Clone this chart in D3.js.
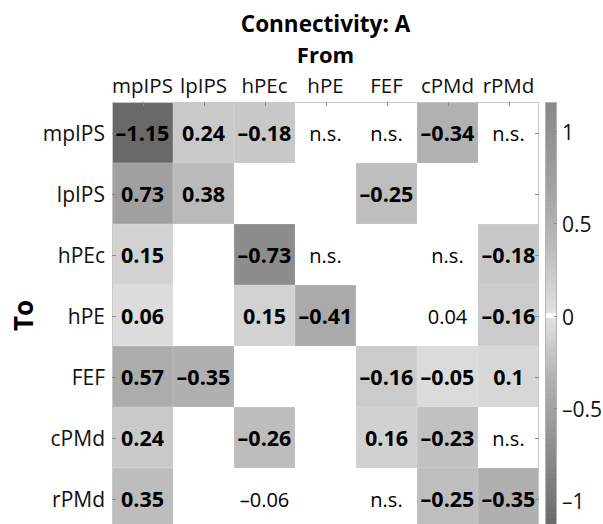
<!DOCTYPE html>
<html>
<head>
<meta charset="utf-8">
<script src="https://cdn.jsdelivr.net/npm/d3@7"></script>
<style>
  html, body { margin: 0; padding: 0; background: #fff; }
  svg { display: block; font-family: "Open Sans", "DejaVu Sans", sans-serif; }
</style>
</head>
<body>
<svg id="chart" width="603" height="524"></svg>
<script>
// Regions, used both as source (columns) and target (rows)
const regions = ["mpIPS", "lpIPS", "hPEc", "hPE", "FEF", "cPMd", "rPMd"];

// One array per target region, one entry per source region.
// number = significant estimate (shaded, bold); string = unshaded label; null = empty
const toMpIPS = [-1.15, 0.24, -0.18, "n.s.", "n.s.", -0.34, "n.s."];
const toLpIPS = [0.73, 0.38, null, null, -0.25, null, null];
const toHPEc  = [0.15, null, -0.73, "n.s.", null, "n.s.", -0.18];
const toHPE   = [0.06, null, 0.15, -0.41, null, "0.04", -0.16];
const toFEF   = [0.57, -0.35, null, null, -0.16, -0.05, 0.1];
const toCPMd  = [0.24, null, -0.26, null, 0.16, -0.23, "n.s."];
const toRPMd  = [0.35, null, "-0.06", null, "n.s.", -0.25, -0.35];

const matrix = [toMpIPS, toLpIPS, toHPEc, toHPE, toFEF, toCPMd, toRPMd];

// Colour limits and colorbar tick values
const colorLimit = 1.16;
const colorbarTicks = [-1, -0.5, 0, 0.5, 1];

const minus = s => String(s).replace("-", "\u2013");

const svg = d3.select("#chart");
const gridLeft = 112, gridTop = 102, cell = 61;
const gridW = cell * regions.length, gridH = cell * regions.length;

const x = d3.scaleBand().domain(regions).range([gridLeft, gridLeft + gridW]);
const y = d3.scaleBand().domain(regions).range([gridTop, gridTop + gridH]);

// Diverging grey map: darker for larger magnitudes (negative side darker), white at zero
const grey = d3.scaleLinear()
  .domain([-colorLimit, -0.73, -0.35, 0, 0.38, 0.73, colorLimit])
  .range(["#686868", "#8d8d8d", "#b0b0b0", "#e2e2e2", "#bababa", "#a0a0a0", "#888888"])
  .clamp(true);
const fillFor = v => Math.abs(v) < 0.012 ? "#ffffff" : grey(v);

const cells = [];
matrix.forEach((row, i) => row.forEach((v, j) => {
  if (v !== null) cells.push({ to: regions[i], from: regions[j], v });
}));

// Shaded cells
svg.append("g").selectAll("rect")
  .data(cells.filter(d => typeof d.v === "number"))
  .join("rect")
  .attr("x", d => x(d.from))
  .attr("y", d => y(d.to))
  .attr("width", x.bandwidth())
  .attr("height", y.bandwidth())
  .attr("fill", d => fillFor(d.v))
  .attr("stroke", "#ffffff")
  .attr("stroke-opacity", 0.15)
  .attr("stroke-width", 1);

// Axis box
svg.append("rect")
  .attr("x", gridLeft + 0.5).attr("y", gridTop + 0.5)
  .attr("width", gridW - 1).attr("height", gridH)
  .attr("fill", "none").attr("stroke", "#c8c8c8").attr("stroke-width", 1);

// Inward ticks on all four sides
const tickLen = 4;
const tickG = svg.append("g").attr("stroke", "#8a8a8a").attr("stroke-width", 1);
regions.forEach(r => {
  const px = Math.round(x(r) + x.bandwidth() / 2) + 0.5;
  const py = Math.round(y(r) + y.bandwidth() / 2) + 0.5;
  tickG.append("line").attr("x1", px).attr("x2", px).attr("y1", gridTop).attr("y2", gridTop + tickLen);
  tickG.append("line").attr("x1", px).attr("x2", px).attr("y1", gridTop + gridH).attr("y2", gridTop + gridH - tickLen);
  tickG.append("line").attr("x1", gridLeft).attr("x2", gridLeft + tickLen).attr("y1", py).attr("y2", py);
  tickG.append("line").attr("x1", gridLeft + gridW).attr("x2", gridLeft + gridW - tickLen).attr("y1", py).attr("y2", py);
});

// Cell labels
svg.append("g").selectAll("text")
  .data(cells)
  .join("text")
  .attr("x", d => x(d.from) + x.bandwidth() / 2)
  .attr("y", d => y(d.to) + y.bandwidth() / 2 + 8)
  .attr("text-anchor", "middle")
  .attr("font-size", d => typeof d.v === "number" ? 21.5 : 20)
  .attr("font-weight", d => typeof d.v === "number" ? "bold" : "normal")
  .attr("fill", "#000")
  .text(d => minus(d.v));

// Column (source) labels
svg.append("g").selectAll("text")
  .data(regions)
  .join("text")
  .attr("x", d => x(d) + x.bandwidth() / 2)
  .attr("y", 93)
  .attr("text-anchor", "middle")
  .attr("font-size", 20.5)
  .attr("fill", "#111")
  .text(d => d);

// Row (target) labels
svg.append("g").selectAll("text")
  .data(regions)
  .join("text")
  .attr("x", 105)
  .attr("y", d => y(d) + y.bandwidth() / 2 + 8)
  .attr("text-anchor", "end")
  .attr("font-size", 21)
  .attr("fill", "#111")
  .text(d => d);

// Titles
svg.append("text")
  .attr("x", gridLeft + gridW / 2).attr("y", 32)
  .attr("text-anchor", "middle").attr("font-size", 22.5).attr("font-weight", "bold")
  .text("Connectivity: A");
svg.append("text")
  .attr("x", gridLeft + gridW / 2).attr("y", 63)
  .attr("text-anchor", "middle").attr("font-size", 22).attr("font-weight", "bold")
  .text("From");
svg.append("text")
  .attr("transform", `translate(33, ${gridTop + gridH / 2}) rotate(-90)`)
  .attr("text-anchor", "middle").attr("font-size", 26).attr("font-weight", "bold")
  .text("To");

// Colorbar
const cbX = 545, cbW = 12;
const cScale = d3.scaleLinear().domain([-colorLimit, colorLimit]).range([gridTop + gridH, gridTop]);
const steps = d3.range(0, 257).map(k => -colorLimit + (2 * colorLimit) * k / 256);
const cbar = svg.append("g");
cbar.selectAll("rect")
  .data(steps.slice(0, -1))
  .join("rect")
  .attr("x", cbX)
  .attr("width", cbW)
  .attr("y", (d, k) => cScale(steps[k + 1]))
  .attr("height", (d, k) => cScale(steps[k]) - cScale(steps[k + 1]) + 0.6)
  .attr("fill", (d, k) => fillFor((steps[k] + steps[k + 1]) / 2));
cbar.append("rect")
  .attr("x", cbX).attr("width", cbW)
  .attr("y", cScale(0.012)).attr("height", cScale(-0.012) - cScale(0.012))
  .attr("fill", "#ffffff");
cbar.append("rect")
  .attr("x", cbX + 0.5).attr("y", gridTop + 0.5)
  .attr("width", cbW - 1).attr("height", gridH)
  .attr("fill", "none").attr("stroke", "#b4b4b4").attr("stroke-width", 1);

const cbAxis = svg.append("g");
colorbarTicks.forEach(t => {
  const ty = Math.round(cScale(t)) + 0.5;
  cbAxis.append("line")
    .attr("x1", cbX + cbW).attr("x2", cbX + cbW - 3)
    .attr("y1", ty).attr("y2", ty)
    .attr("stroke", "#8a8a8a");
  cbAxis.append("text")
    .attr("x", cbX + 17).attr("y", ty + 8)
    .attr("font-size", 21).attr("fill", "#111")
    .text(minus(t));
});
</script>
</body>
</html>
